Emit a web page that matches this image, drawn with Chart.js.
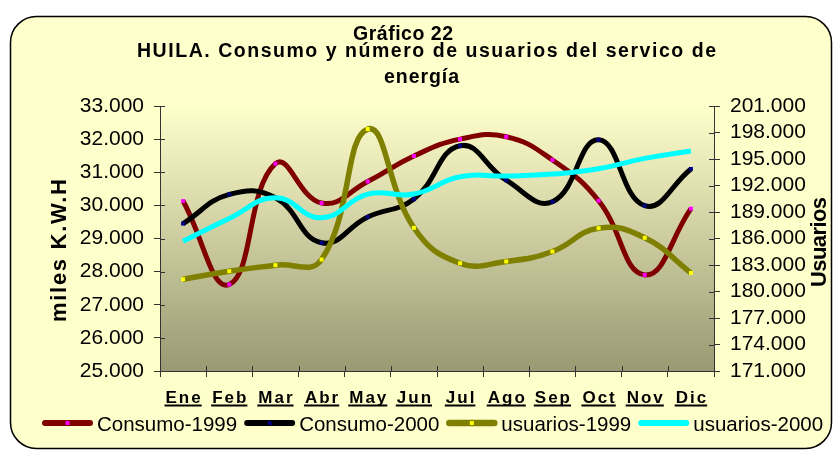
<!DOCTYPE html>
<html lang="es">
<head>
<meta charset="UTF-8">
<title>Gráfico 22 - HUILA</title>
<script src="https://cdn.jsdelivr.net/npm/chart.js@4.4.0/dist/chart.umd.min.js"></script>
<style>
  html, body { margin: 0; padding: 0; background: #fff; }
  #wrap { width: 834px; height: 451px; }
</style>
</head>
<body>
<div id="wrap"><canvas id="grafico22" width="834" height="451"></canvas></div>
<script>
// Datos
const meses = ['Ene', 'Feb', 'Mar', 'Abr', 'May', 'Jun', 'Jul', 'Ago', 'Sep', 'Oct', 'Nov', 'Dic'];
const consumo1999 = [30130, 27610, 31260, 30070, 30720, 31490, 32000, 32070, 31370, 30140, 27900, 29900];
const consumo2000 = [29450, 30330, 30230, 28870, 29650, 30190, 31800, 30760, 30110, 31980, 29990, 31100];
const usuarios1999 = [181390, 182300, 182980, 183620, 198390, 187210, 183200, 183400, 184530, 187170, 186080, 182110];
const usuarios2000 = [185700, 188270, 190610, 188340, 191030, 191030, 192990, 193070, 193290, 193890, 195070, 195900];

const tituloLineas = ['Gráfico 22', 'HUILA. Consumo y número de usuarios del servico de', 'energía'];
const tituloEjeIzq = 'miles K.W.H';
const tituloEjeDer = 'Usuarios';

const FONT = '"Liberation Sans", Arial, sans-serif';

function miles(v) {
    return String(Math.round(v)).replace(/\B(?=(\d{3})+(?!\d))/g, '.');
}

// texto con espaciado ajustado a un ancho dado
function textoAjustado(ctx, txt, cx, base, ancho) {
    ctx.letterSpacing = '0px';
    const w = ctx.measureText(txt).width;
    const s = (ancho - w) / Math.max(1, txt.length - 1);
    ctx.letterSpacing = s + 'px';
    ctx.textAlign = 'left';
    ctx.fillText(txt, cx - ancho / 2, base);
    ctx.letterSpacing = '0px';
}

function rectRedondo(ctx, x, y, w, h, r) {
    ctx.beginPath();
    ctx.moveTo(x + r, y);
    ctx.arcTo(x + w, y, x + w, y + h, r);
    ctx.arcTo(x + w, y + h, x, y + h, r);
    ctx.arcTo(x, y + h, x, y, r);
    ctx.arcTo(x, y, x + w, y, r);
    ctx.closePath();
}

const marco = {
    id: 'marco',
    beforeDraw(chart) {
        const ctx = chart.ctx, a = chart.chartArea;
        ctx.save();
        ctx.fillStyle = '#fff';
        ctx.fillRect(0, 0, chart.width, chart.height);
        rectRedondo(ctx, 10.5, 16.5, 821, 432, 26);
        ctx.fillStyle = '#FFFFCC';
        ctx.fill();
        ctx.lineWidth = 1.5;
        ctx.strokeStyle = '#000';
        ctx.stroke();
        const g = ctx.createLinearGradient(0, a.top, 0, a.bottom);
        g.addColorStop(0, '#FFFFCC');
        g.addColorStop(1, '#999973');
        ctx.fillStyle = g;
        ctx.fillRect(a.left, a.top, a.right - a.left, a.bottom - a.top);
        ctx.restore();
    },
    afterDraw(chart) {
        const ctx = chart.ctx, a = chart.chartArea;
        const x = chart.scales.x, y = chart.scales.y, y1 = chart.scales.y1;
        ctx.save();

        // marcas de graduacion hacia dentro
        ctx.strokeStyle = '#333';
        ctx.lineWidth = 1;
        ctx.beginPath();
        y.ticks.forEach((t, i) => {
            const py = Math.round(y.getPixelForTick(i)) + 0.5;
            ctx.moveTo(a.left, py); ctx.lineTo(a.left + 5, py);
        });
        y1.ticks.forEach((t, i) => {
            const py = Math.round(y1.getPixelForTick(i)) + 0.5;
            ctx.moveTo(a.right - 5, py); ctx.lineTo(a.right, py);
        });
        const medio = (x.getPixelForValue(1) - x.getPixelForValue(0)) / 2;
        for (let i = 0; i <= meses.length; i++) {
            const px = Math.round(x.getPixelForValue(i) - medio) + 0.5;
            ctx.moveTo(px, a.bottom - 5); ctx.lineTo(px, a.bottom);
        }
        ctx.stroke();

        // titulo
        ctx.fillStyle = '#000';
        ctx.textBaseline = 'alphabetic';
        ctx.font = 'bold 19.5px ' + FONT;
        textoAjustado(ctx, tituloLineas[0], 403, 40, 100);
        textoAjustado(ctx, tituloLineas[1], 426.5, 57, 579);
        textoAjustado(ctx, tituloLineas[2], 421.5, 83, 75);

        // titulos de ejes
        ctx.font = 'bold 22px ' + FONT;
        [[tituloEjeIzq, 66, 250.5, 143], [tituloEjeDer, 826, 242, 90]].forEach(([t, bx, cy, largo]) => {
            ctx.save();
            ctx.translate(bx, cy);
            ctx.rotate(-Math.PI / 2);
            textoAjustado(ctx, t, 0, 0, largo);
            ctx.restore();
        });

        // etiquetas de meses, subrayadas
        ctx.font = 'bold 17px ' + FONT;
        ctx.letterSpacing = '2px';
        ctx.textAlign = 'left';
        meses.forEach((m, i) => {
            const cx = x.getPixelForValue(i);
            const w = ctx.measureText(m).width - 2;
            const x0 = cx - w / 2;
            ctx.fillText(m, x0, 403);
            ctx.fillRect(x0 - 1, 404.5, w + 2, 2);
        });
        ctx.letterSpacing = '0px';

        // leyenda
        ctx.font = '20.5px ' + FONT;
        let lx = 43;
        const ly = 423;
        chart.data.datasets.forEach(ds => {
            ctx.strokeStyle = ds.borderColor;
            ctx.lineWidth = ds.borderWidth + 1;
            ctx.lineCap = 'round';
            ctx.beginPath();
            ctx.moveTo(lx + 2, ly); ctx.lineTo(lx + 47, ly);
            ctx.stroke();
            if (ds.pointRadius > 0) {
                ctx.fillStyle = ds.pointBackgroundColor;
                ctx.fillRect(lx + 22.5, ly - 2, 4, 4);
            }
            ctx.fillStyle = '#000';
            ctx.fillText(ds.label, lx + 54, 431);
            lx += 54 + ctx.measureText(ds.label).width + 8;
        });
        ctx.restore();
    }
};

const ctx = document.getElementById('grafico22').getContext('2d');
const grafico = new Chart(ctx, {
    type: 'line',
    data: {
        labels: meses,
        datasets: [
            {
                label: 'Consumo-1999', data: consumo1999, yAxisID: 'y',
                borderColor: '#800000', borderWidth: 5,
                pointStyle: 'rect', pointRadius: 2.8, pointBorderWidth: 0,
                pointBackgroundColor: '#FF00FF', pointBorderColor: '#FF00FF',
                tension: 0.45, order: 4
            },
            {
                label: 'Consumo-2000', data: consumo2000, yAxisID: 'y',
                borderColor: '#000000', borderWidth: 5,
                pointStyle: 'rect', pointRadius: 2.8, pointBorderWidth: 0,
                pointBackgroundColor: '#000080', pointBorderColor: '#000080',
                tension: 0.45, order: 3
            },
            {
                label: 'usuarios-1999', data: usuarios1999, yAxisID: 'y1',
                borderColor: '#808000', borderWidth: 5.5,
                pointStyle: 'rect', pointRadius: 2.8, pointBorderWidth: 0,
                pointBackgroundColor: '#FFFF00', pointBorderColor: '#FFFF00',
                tension: 0.45, order: 2
            },
            {
                label: 'usuarios-2000', data: usuarios2000, yAxisID: 'y1',
                borderColor: '#00FFFF', borderWidth: 5,
                pointRadius: 0,
                tension: 0.45, order: 1
            }
        ]
    },
    options: {
        responsive: false,
        animation: false,
        layout: { padding: { top: 106, left: 0, right: 0, bottom: 0 } },
        plugins: {
            legend: { display: false },
            title: { display: false },
            tooltip: { enabled: false }
        },
        scales: {
            x: {
                offset: true,
                grid: { offset: true, drawOnChartArea: false, tickLength: 6, color: '#333' },
                border: { color: '#333' },
                ticks: { display: false },
                afterFit(s) { s.height = 80; }
            },
            y: {
                position: 'left',
                min: 25000, max: 33000,
                ticks: { stepSize: 1000, autoSkip: false, callback: miles, color: '#000', padding: 10, font: { family: FONT, size: 21 } },
                grid: { drawOnChartArea: false, tickLength: 6, color: '#333' },
                border: { color: '#333' },
                afterFit(s) { s.width = 160; }
            },
            y1: {
                position: 'right',
                min: 171000, max: 201000,
                ticks: { stepSize: 3000, autoSkip: false, callback: miles, color: '#000', padding: 10, font: { family: FONT, size: 21 } },
                grid: { drawOnChartArea: false, tickLength: 6, color: '#333' },
                border: { color: '#333' },
                afterFit(s) { s.width = 120; }
            }
        }
    },
    plugins: [marco]
});
</script>
</body>
</html>
